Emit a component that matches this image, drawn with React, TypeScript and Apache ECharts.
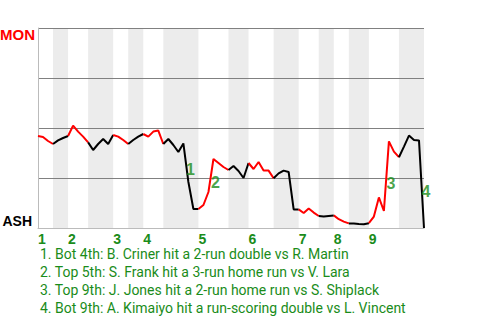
import React, { useEffect, useRef } from "react";
import * as echarts from "echarts";

// Win probability (percent, MON = 100) after each plate appearance
const winProb: number[] = [
  46, 45.5, 43.5, 42, 43.8, 45, 46, 51.2, 48.2, 45.7,
  42.8, 39, 42, 44.5, 42, 46.5, 45.7, 44, 42, 44,
  45.7, 47, 45.7, 48.2, 48.7, 42, 44.5, 41.5, 38, 42.3,
  23, 9.5, 9.5, 11.5, 18, 34.5, 32.5, 30.5, 29, 31,
  28.5, 25, 32.5, 29.5, 33, 28.7, 28.7, 24.9, 27.3, 28.7,
  28, 9.3, 9.3, 7.5, 9.8, 7.7, 6, 5.7, 6, 6.3,
  4.4, 3.2, 2.3, 2.3, 2, 1.9, 2.4, 5.7, 15.3, 8.5,
  43.3, 38.2, 35.4, 40.7, 46.2, 44, 43.8, 0,
];

// Plate-appearance index where each half inning starts (last value = end of game)
const halfInningStarts: number[] = [0, 3, 6, 10, 15, 18, 21, 25, 32, 38, 42, 47, 52, 56, 59, 62, 66, 72, 77];
const inningLabels: string[] = ["1", "2", "3", "4", "5", "6", "7", "8", "9"];

// Key events: index of the plate appearance whose result is the segment i -> i+1
const eventIndex: number[] = [29, 34, 69, 76];
const eventText: string[] = [
  "1. Bot 4th: B. Criner hit a 2-run double vs R. Martin",
  "2. Top 5th: S. Frank hit a 3-run home run vs V. Lara",
  "3. Top 9th: J. Jones hit a 2-run home run vs S. Shiplack",
  "4. Bot 9th: A. Kimaiyo hit a run-scoring double vs L. Vincent",
];

const GREEN = "#1a8c1a";

export default function App() {
  const ref = useRef<HTMLDivElement>(null);
  useEffect(() => {
    if (!ref.current) return;
    const chart = echarts.init(ref.current, undefined, { renderer: "svg" });

    const series: any[] = [];
    // shaded bottom half-innings
    const bands: any[] = [];
    for (let h = 1; h < halfInningStarts.length - 1; h += 2) {
      bands.push([{ xAxis: halfInningStarts[h] }, { xAxis: halfInningStarts[h + 1] }]);
    }
    series.push({
      type: "line",
      data: [],
      z: 0,
      silent: true,
      markArea: { silent: true, z: 0, itemStyle: { color: "#ececec" }, data: bands },
    });
    for (let h = 0; h < halfInningStarts.length - 1; h++) {
      const pts: number[][] = [];
      for (let i = halfInningStarts[h]; i <= halfInningStarts[h + 1]; i++) pts.push([i, winProb[i]]);
      series.push({
        type: "line",
        data: pts,
        z: 5,
        showSymbol: false,
        symbol: "none",
        lineStyle: { color: h % 2 === 0 ? "#ff0000" : "#000000", width: 2 },
        silent: true,
      });
    }
    series.push({
      type: "scatter",
      z: 6,
      symbolSize: 0,
      silent: true,
      data: eventIndex.map((i, k) => ({
        value: [i + 0.5, (winProb[i] + winProb[i + 1]) / 2],
        name: String(k + 1),
      })),
      label: {
        show: true,
        formatter: (p: any) => p.name,
        position: [0, -1],
        align: "left",
        verticalAlign: "top",
        color: GREEN,
        fontWeight: "bold",
        fontSize: 16,
        fontFamily: "Liberation Sans, Arial, sans-serif",
      },
    });

    chart.setOption({
      animation: false,
      grid: { left: 38, top: 28, width: 386, height: 200, containLabel: false },
      xAxis: {
        type: "value",
        min: 0,
        max: halfInningStarts[halfInningStarts.length - 1],
        axisLine: { show: true, lineStyle: { color: "#bbbbbb", width: 1 } },
        axisTick: { show: false },
        splitLine: { show: false },
        axisLabel: {
          customValues: halfInningStarts.filter((_, k) => k % 2 === 0 && k < 18),
          formatter: (v: number) => inningLabels[halfInningStarts.indexOf(v) / 2],
          align: "left",
          margin: 4,
          color: GREEN,
          fontWeight: "bold",
          fontSize: 14,
          fontFamily: "Liberation Sans, Arial, sans-serif",
        },
        z: 3,
      },
      yAxis: {
        type: "value",
        min: 0,
        max: 100,
        interval: 25,
        axisLine: { show: true, lineStyle: { color: "#bbbbbb", width: 1 } },
        axisTick: { show: false },
        axisLabel: { show: false },
        splitLine: { show: true, lineStyle: { color: "#808080", width: 1 } },
        z: 3,
      },
      graphic: [
        {
          type: "text",
          right: 480 - 35,
          top: 27,
          style: {
            text: "MON",
            fill: "#ff0000",
            font: "bold 15px 'Liberation Sans', Arial, sans-serif",
          },
        },
        {
          type: "text",
          right: 480 - 32,
          top: 214,
          style: {
            text: "ASH",
            fill: "#000000",
            font: "bold 14px 'Liberation Sans', Arial, sans-serif",
          },
        },
        {
          type: "text",
          left: 40,
          top: 245,
          style: {
            text: eventText.join("\n"),
            fill: GREEN,
            font: "14px Roboto, sans-serif",
            lineHeight: 18,
          },
        },
      ],
      series,
    });
    return () => chart.dispose();
  }, []);
  return <div ref={ref} style={{ width: 480, height: 320, position: "absolute", left: 0, top: 0 }} />;
}
